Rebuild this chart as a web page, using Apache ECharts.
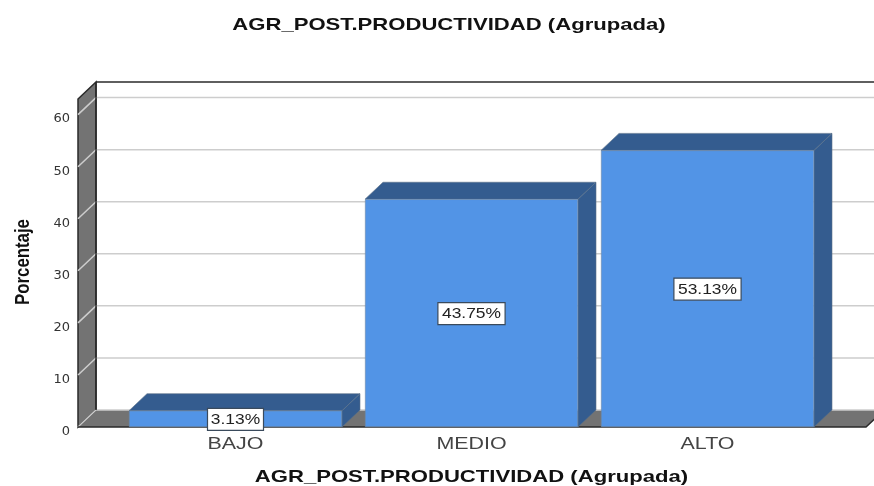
<!DOCTYPE html>
<html><head><meta charset="utf-8">
<style>html,body{margin:0;padding:0;background:#fff}#c{width:874px;height:486px}</style>
<script src="https://cdn.jsdelivr.net/npm/echarts@6/dist/echarts.min.js"></script>
</head><body><div id="c"></div>
<script>
const categories = ['BAJO', 'MEDIO', 'ALTO'];
const values = [3.13, 43.75, 53.13];
const tickValues = [0, 10, 20, 30, 40, 50, 60];
const titleText = 'AGR_POST.PRODUCTIVIDAD (Agrupada)';
const yName = 'Porcentaje';
const yMax = 63;

const DX = 18, DY = 17, BAR_W = 213, WALL_L = 39.5, WALL_R = 40.5;
const FRONT = '#5294E6', SIDE = '#345C8F', WALL = '#737373', GRID = '#CDCDCD';
const SANS = 'Liberation Sans';

function renderWalls(params, api) {
  const cs = params.coordSys;
  const x0 = cs.x - WALL_L, x1 = cs.x + cs.width + WALL_R;
  const bottom = cs.y + cs.height, top = cs.y;
  const ch = [];
  ch.push({type:'polygon', shape:{points:[[x0,bottom],[x0+DX,bottom-DY],[x1+DX,bottom-DY],[x1,bottom]]},
    style:{fill:WALL}});
  ch.push({type:'polygon', shape:{points:[[x0,top],[x0+DX,top-DY],[x0+DX,bottom-DY],[x0,bottom]]},
    style:{fill:WALL, stroke:'#2A2A2A', lineWidth:1.5}});
  tickValues.forEach(v => {
    const y = api.coord([0, v])[1];
    ch.push({type:'polyline', shape:{points:[[x0,y],[x0+DX,y-DY],[x1+DX,y-DY]]},
      style:{fill:null, stroke:GRID, lineWidth:1.5}});
  });
  ch.push({type:'line', shape:{x1:x0+DX,y1:top-DY,x2:x1+DX,y2:top-DY}, style:{stroke:'#2A2A2A', lineWidth:1.5}});
  ch.push({type:'line', shape:{x1:x0+DX,y1:top-DY,x2:x0+DX,y2:bottom-DY}, style:{stroke:'#2A2A2A', lineWidth:1.5}});
  ch.push({type:'polyline', shape:{points:[[x0,bottom],[x1,bottom],[x1+DX,bottom-DY]]},
    style:{fill:null, stroke:'#2A2A2A', lineWidth:1.5}});
  return {type:'group', children:ch};
}

function renderDepth(params, api) {
  const p = api.coord([api.value(0), api.value(1)]);
  const b = api.coord([api.value(0), 0]);
  const l = p[0] - BAR_W/2, r = p[0] + BAR_W/2, t = p[1], bot = b[1];
  return {type:'group', children:[
    {type:'polygon', shape:{points:[[l,t],[l+DX,t-DY],[r+DX,t-DY],[r,t]]}, style:{fill:SIDE, stroke:'#5A7088', lineWidth:0.6}},
    {type:'polygon', shape:{points:[[r,t],[r+DX,t-DY],[r+DX,bot-DY],[r,bot]]}, style:{fill:SIDE, stroke:'#5A7088', lineWidth:0.6}}
  ]};
}

function renderLabels(params, api) {
  const i = api.value(0), v = api.value(1);
  const p = api.coord([i, v / 2]);
  const b = api.coord([i, 0]);
  const txt = v.toFixed(2) + '%';
  const w = txt.length * 11.2;
  return {type:'group', children:[
    {type:'rect', shape:{x:p[0]-w/2, y:p[1]-10.5, width:w, height:22},
      style:{fill:'#fff', stroke:'#3A4A5C', lineWidth:1.2}},
    {type:'text', x:p[0], y:p[1]+1, scaleX:1.16,
      style:{text:txt, align:'center', verticalAlign:'middle',
        font:'15px "'+SANS+'"', fill:'#222'}},
    {type:'text', x:p[0], y:b[1]+17, scaleX:1.26,
      style:{text:categories[i], align:'center', verticalAlign:'middle',
        font:'17px "'+SANS+'"', fill:'#444'}}
  ]};
}

const chart = echarts.init(document.getElementById('c'), null, {renderer:'canvas'});
chart.setOption({
  animation:false,
  backgroundColor:'#fff',
  graphic:[
    {type:'text', x:449, y:25, scaleX:1.3,
      style:{text:titleText, align:'center', verticalAlign:'middle', font:'bold 17px "'+SANS+'"', fill:'#111'}},
    {type:'text', x:471.5, y:477.5, scaleX:1.3,
      style:{text:titleText, align:'center', verticalAlign:'middle', font:'bold 17px "'+SANS+'"', fill:'#111'}},
    {type:'text', x:23, y:262, rotation:Math.PI/2, scaleX:0.84,
      style:{text:yName, align:'center', verticalAlign:'middle', font:'bold 20px "'+SANS+'"', fill:'#111'}}
  ],
  grid:{left:117.5, width:708, top:99, bottom:59, outerBoundsMode:'none'},
  xAxis:{type:'category', data:categories, axisLine:{show:false}, axisTick:{show:false}, axisLabel:{show:false}},
  yAxis:{type:'value', min:0, max:yMax, interval:10, offset:WALL_L,
    axisLine:{show:false}, axisTick:{show:false}, splitLine:{show:false},
    axisLabel:{customValues:tickValues, fontFamily:'DejaVu Sans', fontSize:13, color:'#333', margin:8, verticalAlign:'top', lineHeight:9}},
  series:[
    {type:'custom', z:1, silent:true, data:[[0]], renderItem:renderWalls, clip:false},
    {type:'custom', z:2, silent:true, data:values.map((v,i)=>[i,v]), renderItem:renderDepth, clip:false},
    {type:'bar', z:3, data:values, barWidth:BAR_W,
      itemStyle:{color:FRONT, borderColor:'#6E8AA8', borderWidth:0.6}},
    {type:'custom', z:4, silent:true, data:values.map((v,i)=>[i,v]), renderItem:renderLabels, clip:false}
  ]
});
</script></body></html>
